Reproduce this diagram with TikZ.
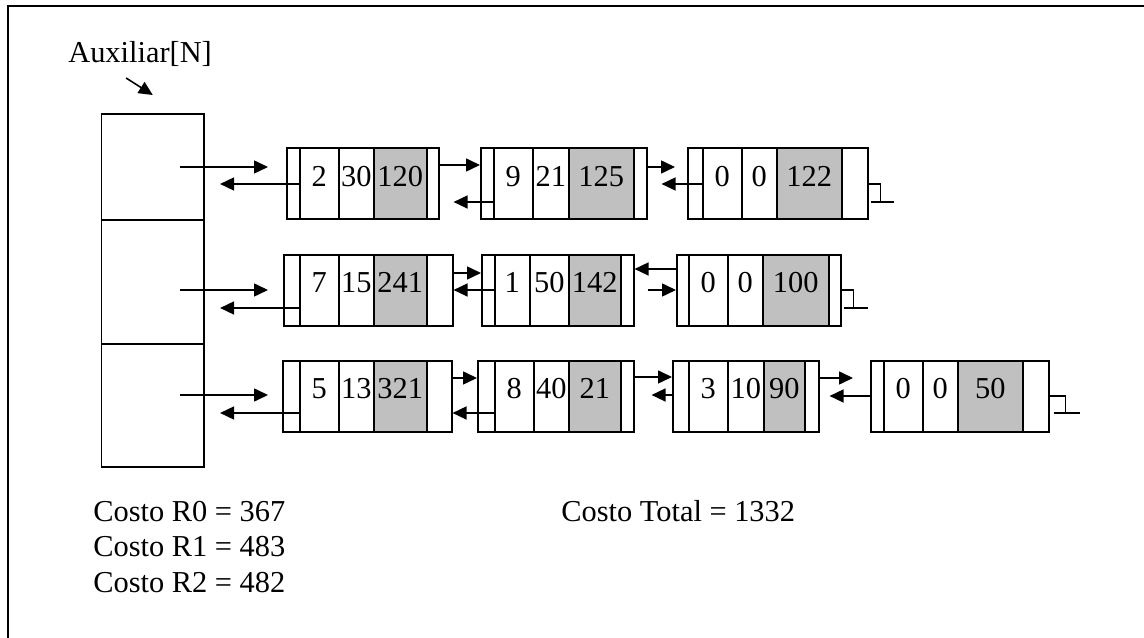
\documentclass[tikz,border=0pt]{standalone}
\usepackage{fontspec}
\setmainfont{Liberation Serif}
\usetikzlibrary{arrows.meta,calc}
\definecolor{cellgray}{RGB}{192,192,192}

% one list node: name, top, cell borders, values
\newcommand{\listnode}[4]{%
  \foreach \xa/\xb/\xc/\xd/\xe/\xf in {#3} {
    \foreach \va/\vb/\vc in {#4} {
      \node[cell, minimum width=(\xb-\xa)*0.02cm] (#1-1) at (\xa,#2) {};
      \node[cell, minimum width=(\xc-\xb)*0.02cm] (#1-2) at (\xb,#2) {\va};
      \node[cell, minimum width=(\xd-\xc)*0.02cm] (#1-3) at (\xc,#2) {\vb};
      \node[gcell, minimum width=(\xe-\xd)*0.02cm] (#1-4) at (\xd,#2) {\vc};
      \node[cell, minimum width=(\xf-\xe)*0.02cm] (#1-5) at (\xe,#2) {};
    }
  }%
}

\begin{document}
\begin{tikzpicture}[x=0.02cm, y=-0.02cm,
  font=\fontsize{17.3}{20}\selectfont,
  cell/.style={draw, line width=0.9pt, anchor=north west, inner sep=0pt,
               text height=0.76cm, text depth=0.66cm},
  gcell/.style={cell, fill=cellgray},
  auxcell/.style={draw, line width=0.9pt, anchor=north west, inner sep=0pt,
                  minimum width=2.06cm},
  arrow/.style={-{Triangle[length=0.28cm, width=0.26cm]}, line width=0.9pt},
  nil/.style={line width=0.9pt},
  txt/.style={anchor=base west, inner sep=0pt}
]
  \useasboundingbox (0,0) rectangle (1144,638);
  \draw[line width=0.8pt] (8,638) -- (8,6) -- (1144,6);

  % auxiliary array
  \node[txt] (auxlbl) at (68,63) {Auxiliar[N]};
  \node[auxcell, minimum height=2.12cm] (aux-1) at (100.5,113) {};
  \node[auxcell, minimum height=2.48cm] (aux-2) at (100.5,219) {};
  \node[auxcell, minimum height=2.46cm] (aux-3) at (100.5,343) {};
  \draw[arrow] ($(auxlbl.base)+(-14,15)$) -- ($(aux-1.north)+(0,-18)$);

  % lists
  \listnode{a1}{147.5}{286/299/338/373/426/438}{2/30/120}
  \listnode{a2}{147.5}{480/493/532/568/633/646}{9/21/125}
  \listnode{a3}{147.5}{687/702/741/776/841/867}{0/0/122}
  \listnode{b1}{254}{283/299/338/373/426/452}{7/15/241}
  \listnode{b2}{254}{481/494/529/568/620/633}{1/50/142}
  \listnode{b3}{254}{676/688/727/762/828/840}{0/0/100}
  \listnode{c1}{360}{282/299/338/373/426/451}{5/13/321}
  \listnode{c2}{360}{477/494/533/568/620/633}{8/40/21}
  \listnode{c3}{360}{672/688/727/763/804/818}{3/10/90}
  \listnode{c4}{360}{870/883/922/957/1022/1048}{0/0/50}

  % row 0
  \draw[arrow, shorten <=-0.5cm, shorten >=0.36cm] (aux-1.east |- 0,167) -- (a1-1.west |- 0,167);
  \draw[arrow, shorten >=0.3cm] (a1-2.west |- 0,184) -- (aux-1.east |- 0,184);
  \draw[arrow] (a1-5.east |- 0,165) -- (a2-1.west |- 0,165);
  \draw[arrow, shorten >=0.28cm] (a2-2.west |- 0,202) -- (a1-5.east |- 0,202);
  \draw[arrow, shorten >=0.24cm] (a2-5.east |- 0,167) -- (a3-1.west |- 0,167);
  \draw[arrow, shorten >=0.28cm] (a3-2.west |- 0,184) -- (a2-5.east |- 0,184);
  \draw[nil] (a3-5.east |- 0,184) -- ++(12,0) -- ++(0,18);
  \draw[nil] (a3-5.east |- 0,202) ++(2,0) -- ++(23,0);

  % row 1
  \draw[arrow, shorten <=-0.5cm, shorten >=0.3cm] (aux-2.east |- 0,290) -- (b1-1.west |- 0,290);
  \draw[arrow, shorten >=0.3cm] (b1-2.west |- 0,308) -- (aux-2.east |- 0,308);
  \draw[arrow] (b1-5.east |- 0,273) -- (b2-1.west |- 0,273);
  \draw[arrow] (b2-2.west |- 0,290) -- (b1-5.east |- 0,290);
  \draw[arrow] (b3-1.west |- 0,269) -- (b2-5.east |- 0,269);
  \draw[arrow, shorten <=0.26cm] (b2-5.east |- 0,290) -- (b3-1.west |- 0,290);
  \draw[nil] (b3-5.east |- 0,290) -- ++(12,0) -- ++(0,18);
  \draw[nil] (b3-5.east |- 0,308) ++(2,0) -- ++(24,0);

  % row 2
  \draw[arrow, shorten <=-0.5cm, shorten >=0.28cm] (aux-3.east |- 0,395) -- (c1-1.west |- 0,395);
  \draw[arrow, shorten >=0.3cm] (c1-2.west |- 0,413) -- (aux-3.east |- 0,413);
  \draw[arrow] (c1-5.east |- 0,378) -- (c2-1.west |- 0,378);
  \draw[arrow] (c2-2.west |- 0,413) -- (c1-5.east |- 0,413);
  \draw[arrow] (c2-5.east |- 0,377) -- (c3-1.west |- 0,377);
  \draw[arrow, shorten >=0.34cm] (c3-1.west |- 0,395) -- (c2-5.east |- 0,395);
  \draw[arrow, shorten >=0.34cm] (c3-5.east |- 0,378) -- (c4-1.west |- 0,378);
  \draw[arrow, shorten >=0.2cm] (c4-1.west |- 0,396) -- (c3-5.east |- 0,396);
  \draw[nil] (c4-5.east |- 0,396) -- ++(16,0) -- ++(0,17);
  \draw[nil] (c4-5.east |- 0,413) ++(4,0) -- ++(26,0);

  % costs
  \node[txt] (costo0) at (93,522) {Costo R0 = 367};
  \node[txt] (costo1) at (93,557) {Costo R1 = 483};
  \node[txt] (costo2) at (93,593) {Costo R2 = 482};
  \node[txt] (total) at (561,522) {Costo Total = 1332};
\end{tikzpicture}
\end{document}
